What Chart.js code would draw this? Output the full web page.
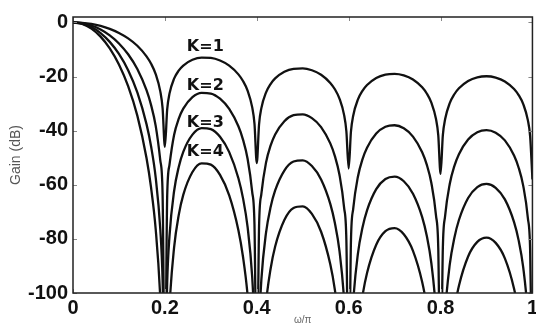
<!DOCTYPE html>
<html>
<head>
<meta charset="utf-8">
<script src="https://cdn.jsdelivr.net/npm/chart.js@4"></script>
<style>
  html, body { margin: 0; padding: 0; background: #fff; overflow: hidden; }
  #wrap { width: 541px; height: 326px; }
</style>
</head>
<body>
<div id="wrap"><canvas id="myChart"></canvas></div>
<script>
// normalised frequency (omega / pi)
const omega = [0, 0.02, 0.04, 0.06, 0.08, 0.1, 0.12, 0.14, 0.16, 0.17, 0.18, 0.19, 0.195,
  0.2, 0.205, 0.21, 0.22, 0.23, 0.24, 0.26, 0.28, 0.3, 0.32, 0.34, 0.36, 0.37, 0.38, 0.39, 0.395,
  0.4, 0.405, 0.41, 0.42, 0.43, 0.44, 0.46, 0.48, 0.5, 0.52, 0.54, 0.56, 0.57, 0.58, 0.59, 0.595,
  0.6, 0.605, 0.61, 0.62, 0.63, 0.64, 0.66, 0.68, 0.7, 0.72, 0.74, 0.76, 0.77, 0.78, 0.79, 0.795,
  0.8, 0.805, 0.81, 0.82, 0.83, 0.84, 0.86, 0.88, 0.9, 0.92, 0.94, 0.96, 0.97, 0.98, 0.99, 0.995, 1];

// gain in dB for each order
const gainK1 = [0, -0.14, -0.57, -1.31, -2.40, -3.89, -5.89, -8.62, -12.53, -15.29, -19.11, -25.48, -31.69,
  -46, -32.11, -26.32, -20.80, -17.83, -15.94, -13.82, -13.02, -13.14, -14.09, -15.98, -19.20, -21.65, -25.20, -31.31, -37.40,
  -52, -37.58, -31.68, -25.95, -22.78, -20.70, -18.25, -17.14, -16.99, -17.69, -19.34, -22.35, -24.71, -28.15, -34.17, -40.22,
  -54, -40.32, -34.37, -28.55, -25.30, -23.15, -20.54, -19.29, -19.00, -19.57, -21.10, -23.98, -26.28, -29.67, -35.63, -41.65,
  -56, -41.69, -35.72, -29.85, -26.55, -24.34, -21.63, -20.28, -19.89, -20.37, -21.80, -24.60, -26.85, -30.20, -36.11, -42.11,
  -58];
const gainK2 = [0, -0.28, -1.15, -2.63, -4.79, -7.77, -11.78, -17.23, -25.06, -30.58, -38.22, -50.96, -63.38,
  -140, -64.22, -52.64, -41.60, -35.66, -31.88, -27.64, -26.04, -26.28, -28.18, -31.96, -38.40, -43.30, -50.40, -62.62, -74.80,
  -140, -75.16, -63.36, -51.90, -45.56, -41.40, -36.50, -34.28, -33.98, -35.38, -38.68, -44.70, -49.42, -56.30, -68.34, -80.44,
  -140, -80.64, -68.74, -57.10, -50.60, -46.30, -41.08, -38.58, -38.00, -39.14, -42.20, -47.96, -52.56, -59.34, -71.26, -83.30,
  -140, -83.38, -71.44, -59.70, -53.10, -48.68, -43.26, -40.56, -39.78, -40.74, -43.60, -49.20, -53.70, -60.40, -72.22, -84.22,
  -140];
const gainK3 = [0, -0.43, -1.72, -3.94, -7.19, -11.66, -17.67, -25.85, -37.59, -45.87, -57.33, -76.44, -95.07,
  -140, -96.33, -78.96, -62.40, -53.49, -47.82, -41.46, -39.06, -39.42, -42.27, -47.94, -57.60, -64.95, -75.60, -93.93, -112.2,
  -140, -112.7, -95.04, -77.85, -68.34, -62.10, -54.75, -51.42, -50.97, -53.07, -58.02, -67.05, -74.13, -84.45, -102.5, -120.7,
  -140, -121.0, -103.1, -85.65, -75.90, -69.45, -61.62, -57.87, -57.00, -58.71, -63.30, -71.94, -78.84, -89.01, -106.9, -125.0,
  -140, -125.1, -107.2, -89.55, -79.65, -73.02, -64.89, -60.84, -59.67, -61.11, -65.40, -73.80, -80.55, -90.60, -108.3, -126.3,
  -140];
const gainK4 = [0, -0.57, -2.29, -5.25, -9.59, -15.55, -23.56, -34.46, -50.12, -61.16, -76.44, -101.9, -126.8,
  -140, -128.4, -105.3, -83.20, -71.32, -63.76, -55.28, -52.08, -52.56, -56.36, -63.92, -76.80, -86.60, -100.8, -125.2, -140,
  -140, -140, -126.7, -103.8, -91.12, -82.80, -73.00, -68.56, -67.96, -70.76, -77.36, -89.40, -98.84, -112.6, -136.7, -140,
  -140, -140, -137.5, -114.2, -101.2, -92.60, -82.16, -77.16, -76.00, -78.28, -84.40, -95.92, -105.1, -118.7, -140, -140,
  -140, -140, -140, -119.4, -106.2, -97.36, -86.52, -81.12, -79.56, -81.48, -87.20, -98.40, -107.4, -120.8, -140, -140,
  -140];

const seriesNames = ["K=1", "K=2", "K=3", "K=4"];
const seriesGains = [gainK1, gainK2, gainK3, gainK4];
// where the K labels sit (omega, dB)
const labelX = [0.288, 0.288, 0.288, 0.288];
const labelY = [-9.2, -23.3, -37, -47.8];

const xTicks = [0, 0.2, 0.4, 0.6, 0.8, 1];
const yTicks = [0, -20, -40, -60, -80, -100];

const frame = {
  id: "frame",
  afterDatasetsDraw(chart) {
    const { ctx, chartArea: a, scales } = chart;
    ctx.save();
    // small inner ticks
    ctx.strokeStyle = "#888";
    ctx.lineWidth = 1;
    ctx.beginPath();
    yTicks.forEach(v => {
      const y = Math.round(scales.y.getPixelForValue(v)) + 0.5;
      ctx.moveTo(a.left, y); ctx.lineTo(a.left + 4, y);
      ctx.moveTo(a.right, y); ctx.lineTo(a.right - 4, y);
    });
    xTicks.forEach(v => {
      const x = Math.round(scales.x.getPixelForValue(v)) + 0.5;
      ctx.moveTo(x, a.top); ctx.lineTo(x, a.top + 4);
      ctx.moveTo(x, a.bottom); ctx.lineTo(x, a.bottom - 4);
    });
    ctx.stroke();
    // box
    ctx.strokeStyle = "#222";
    ctx.lineWidth = 1.5;
    ctx.strokeRect(a.left, a.top, a.right - a.left, a.bottom - a.top);
    // K labels
    ctx.fillStyle = "#111";
    ctx.font = "bold 16px 'DejaVu Sans'";
    ctx.textAlign = "center";
    ctx.textBaseline = "middle";
    seriesNames.forEach((n, i) => {
      ctx.fillText(n, scales.x.getPixelForValue(labelX[i]), scales.y.getPixelForValue(labelY[i]));
    });
    ctx.restore();
  },
};

const ctx = document.getElementById("myChart").getContext("2d");
const chart = new Chart(ctx, {
  type: "line",
  data: {
    datasets: seriesNames.map((name, i) => ({
      label: name,
      data: omega.map((w, j) => ({ x: w, y: seriesGains[i][j] })),
      borderColor: "#111",
      borderWidth: 2.3,
      pointRadius: 0,
      cubicInterpolationMode: "monotone",
      fill: false,
    })),
  },
  options: {
    responsive: true,
    maintainAspectRatio: false,
    animation: false,
    layout: { padding: { top: 9, left: 0, right: 0, bottom: 0 } },
    plugins: {
      legend: { display: false },
      tooltip: { enabled: false },
    },
    scales: {
      x: {
        type: "linear",
        min: 0,
        max: 1,
        afterBuildTicks: s => { s.ticks = xTicks.map(v => ({ value: v })); },
        afterFit: s => { s.height = 33; },
        grid: { display: false, drawTicks: false },
        border: { display: false },
        ticks: {
          padding: 3,
          color: "#111",
          font: { family: "'Liberation Sans', Arial", size: 20, weight: "bold" },
          callback: v => String(Number(v.toFixed(1))),
          maxRotation: 0,
        },
        title: {
          display: true,
          text: "ω/π",
          color: "#666",
          font: { family: "'Liberation Sans', Arial", size: 10 },
          padding: { top: 0, bottom: 0 },
        },
      },
      y: {
        min: -100,
        max: 2,
        afterBuildTicks: s => { s.ticks = yTicks.map(v => ({ value: v })); },
        afterFit: s => { s.width = 73; },
        grid: { display: false, drawTicks: false },
        border: { display: false },
        ticks: {
          padding: 5,
          color: "#111",
          font: { family: "'Liberation Sans', Arial", size: 20, weight: "bold" },
        },
        title: {
          display: true,
          text: "Gain (dB)",
          color: "#555",
          font: { family: "'Liberation Sans', Arial", size: 14 },
          padding: { top: 8, bottom: 0 },
        },
      },
    },
  },
  plugins: [frame],
});
</script>
</body>
</html>
